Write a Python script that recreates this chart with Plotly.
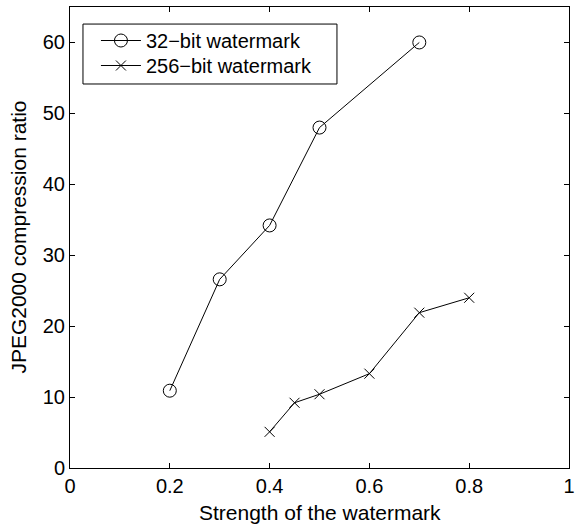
import plotly.graph_objects as go

x32 = [0.2, 0.3, 0.4, 0.5, 0.7]
y32 = [10.9, 26.6, 34.2, 48.0, 60.0]
x256 = [0.4, 0.45, 0.5, 0.6, 0.7, 0.8]
y256 = [5.1, 9.2, 10.4, 13.3, 21.9, 24.0]
xticks = [0, 0.2, 0.4, 0.6, 0.8, 1]
xticklabels = ["0", "0.2", "0.4", "0.6", "0.8", "1"]
yticks = [0, 10, 20, 30, 40, 50, 60]

FONT = "Liberation Sans, Arial, Helvetica, sans-serif"

fig = go.Figure()
fig.add_trace(go.Scatter(x=x32, y=y32, mode="lines+markers", name="32\u2212bit watermark",
                         legend="legend",
                         line=dict(color="black", width=1),
                         marker=dict(symbol="circle-open", size=13, color="black", line=dict(width=1))))
fig.add_trace(go.Scatter(x=x256, y=y256, mode="lines+markers", name="256\u2212bit watermark",
                         legend="legend2",
                         line=dict(color="black", width=1),
                         marker=dict(symbol="x-thin-open", size=10, color="black", line=dict(width=1, color="black"))))

axis_common = dict(showgrid=False, zeroline=False, showline=True, linecolor="black", linewidth=1,
                   mirror="ticks", ticks="inside", ticklen=5, tickcolor="black", automargin=False,
                   tickfont=dict(family=FONT, size=20, color="black"))
leg_common = dict(xanchor="left", yanchor="top", borderwidth=0, bgcolor="rgba(0,0,0,0)",
                  font=dict(family=FONT, size=20, color="black"), itemwidth=40)
fig.update_layout(
    width=584, height=526,
    margin=dict(l=70, r=15, t=7, b=58),
    paper_bgcolor="white", plot_bgcolor="white",
    font=dict(family=FONT, size=20, color="black"),
    xaxis=dict(range=[0, 1], tickvals=xticks, ticktext=xticklabels, **axis_common),
    yaxis=dict(range=[0, 65], tickvals=yticks, **axis_common),
    legend=dict(x=0.052, y=0.9696, **leg_common),
    legend2=dict(x=0.052, y=0.9154, **leg_common),
    showlegend=True,
    shapes=[dict(type="rect", xref="paper", yref="paper", x0=0.026, x1=0.535, y0=0.833, y1=0.963,
                 line=dict(color="black", width=1), fillcolor="white", layer="above")],
    annotations=[
        dict(text="Strength of the watermark", xref="paper", yref="paper", x=0.5, y=-0.0976,
             xanchor="center", yanchor="middle", showarrow=False, font=dict(family=FONT, size=21)),
        dict(text="JPEG2000 compression ratio", xref="paper", yref="paper", x=-0.104, y=0.5,
             xanchor="center", yanchor="middle", textangle=-90, showarrow=False,
             font=dict(family=FONT, size=21)),
    ],
)
fig.write_html("out.html", post_script="document.body.style.margin='0';",
               config={"displayModeBar": False})
